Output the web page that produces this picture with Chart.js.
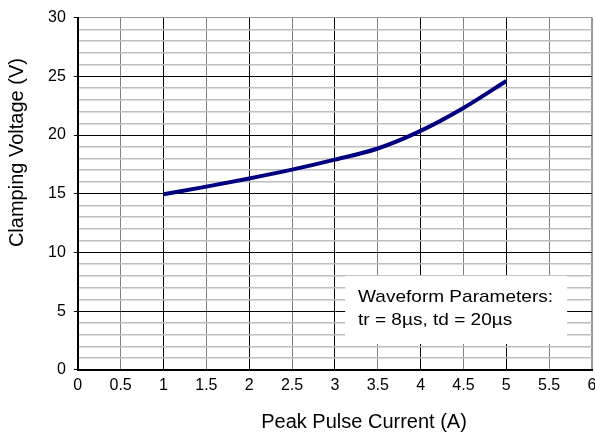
<!DOCTYPE html>
<html>
<head>
<meta charset="utf-8">
<script src="https://cdn.jsdelivr.net/npm/chart.js@4"></script>
<style>
  html, body { margin: 0; padding: 0; background: #fff; }
  #wrap { width: 595px; height: 446px; }
</style>
</head>
<body>
<div id="wrap"><canvas id="chart"></canvas></div>
<script>
// Clamping voltage vs peak pulse current
const current = [1, 1.5, 2, 2.5, 3, 3.5, 4, 4.5, 5];
const voltage = [14.95, 15.6, 16.3, 17.05, 17.9, 18.85, 20.35, 22.3, 24.6];
const xTitle = 'Peak Pulse Current (A)';
const yTitle = 'Clamping Voltage (V)';
const noteLines = ['Waveform Parameters:', 'tr = 8\u00b5s, td = 20\u00b5s'];

const FONT = 'Arial, "Liberation Sans", Helvetica, sans-serif';

// axis titles and the white note box (the titles sit off-centre in the original)
const extrasPlugin = {
    id: 'extras',
    afterDatasetsDraw(chart) {
        const c = chart.ctx;
        const x = chart.scales.x, y = chart.scales.y;
        const area = chart.chartArea;
        c.save();
        // note box
        const left = x.getPixelForValue(3.12), right = x.getPixelForValue(5.71);
        const top = y.getPixelForValue(8.0), bottom = y.getPixelForValue(2.2);
        c.fillStyle = '#ffffff';
        c.fillRect(left, top, right - left, bottom - top);
        c.fillStyle = '#000';
        c.font = '17px ' + FONT;
        c.textBaseline = 'middle';
        const tx = x.getPixelForValue(3.27);
        [6.15, 4.2].forEach((v, i) => {
            c.save();
            c.translate(tx, y.getPixelForValue(v));
            c.scale(1.12, 1);
            c.fillText(noteLines[i], 0, 0);
            c.restore();
        });
        // x title
        c.font = '20px ' + FONT;
        c.textAlign = 'center';
        c.fillText(xTitle, x.getPixelForValue(3.34), area.bottom + 53);
        // y title
        c.translate(area.left - 60, y.getPixelForValue(18.5));
        c.rotate(-Math.PI / 2);
        c.fillText(yTitle, 0, 0);
        c.restore();
    }
};

const ctx = document.getElementById('chart');
new Chart(ctx, {
    type: 'line',
    data: {
        datasets: [{
            data: current.map((v, i) => ({ x: v, y: voltage[i] })),
            borderColor: '#000080',
            borderWidth: 4,
            pointRadius: 0,
            cubicInterpolationMode: 'monotone',
            fill: false
        }]
    },
    options: {
        responsive: true,
        maintainAspectRatio: false,
        animation: false,
        layout: { padding: { top: 10, right: 3, left: 40, bottom: 45 } },
        plugins: {
            legend: { display: false },
            tooltip: { enabled: false }
        },
        scales: {
            x: {
                type: 'linear',
                min: 0,
                max: 6,
                afterFit: (s) => { s.paddingRight = 0; },
                ticks: {
                    stepSize: 0.5,
                    color: '#000',
                    font: { family: FONT, size: 16 },
                    padding: 6,
                    maxRotation: 0,
                    callback: (v) => String(v)
                },
                grid: {
                    color: (c) => {
                        if (!c.tick) return '#000';
                        if (c.tick.value === 6) return '#999';
                        return Number.isInteger(c.tick.value) ? '#000' : '#808080';
                    },
                    lineWidth: (c) => (c.tick && c.tick.value === 6) ? 2 : 1,
                    drawTicks: false
                },
                border: { color: '#000', width: 2 }
            },
            y: {
                min: 0,
                max: 30,
                ticks: {
                    stepSize: 1,
                    autoSkip: false,
                    color: '#000',
                    font: { family: FONT, size: 16 },
                    padding: 8,
                    callback: (v) => v % 5 === 0 ? v : ''
                },
                grid: {
                    color: (c) => {
                        if (!c.tick) return '#000';
                        if (c.tick.value === 30) return '#999';
                        return c.tick.value % 5 === 0 ? '#000' : '#bdbdbd';
                    },
                    lineWidth: (c) => (c.tick && c.tick.value % 5 === 0) ? 1 : 1.5,
                    tickColor: (c) => (c.tick && c.tick.value % 5 === 0) ? '#000' : 'rgba(0,0,0,0)',
                    tickLength: 4
                },
                border: { color: '#000', width: 2 }
            }
        }
    },
    plugins: [extrasPlugin]
});
</script>
</body>
</html>
